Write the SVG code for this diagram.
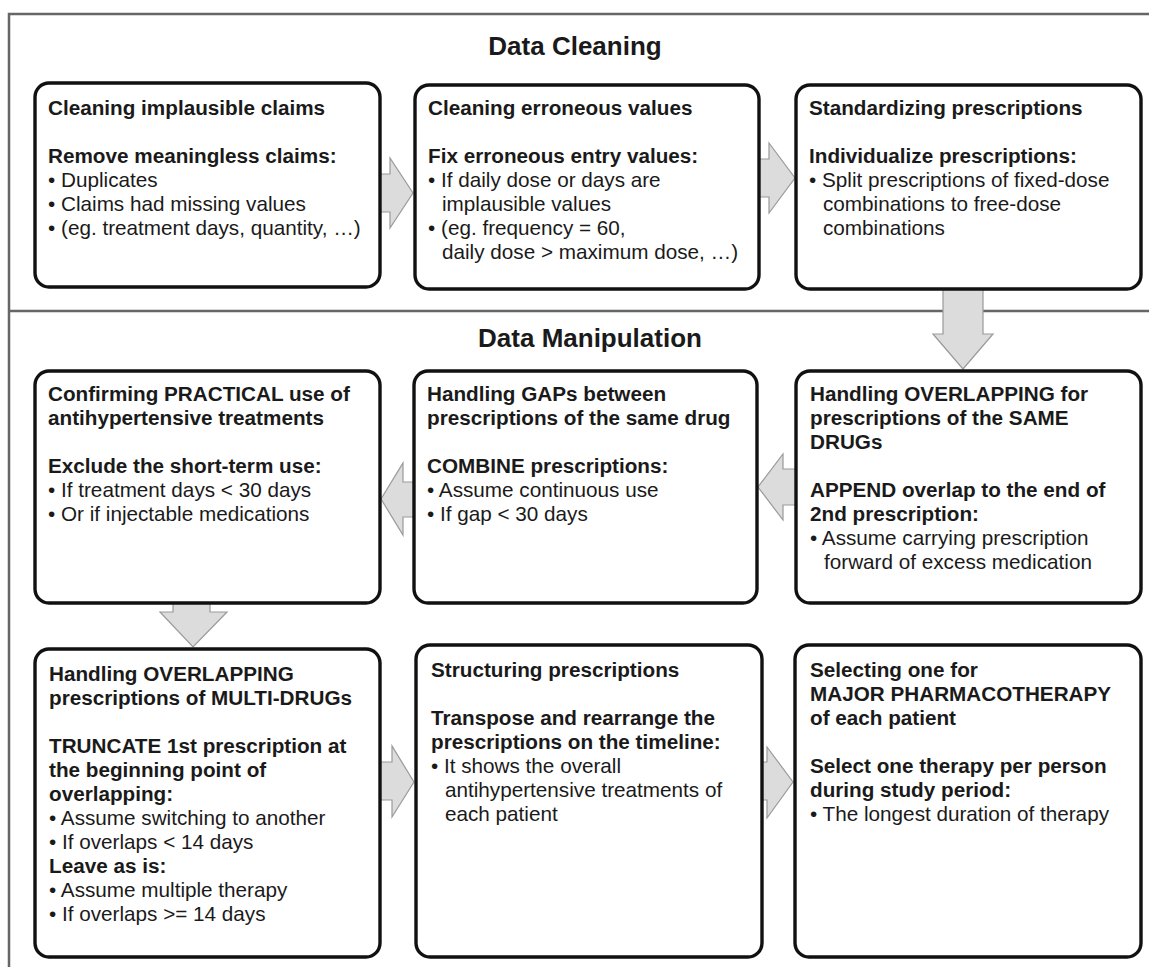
<svg xmlns="http://www.w3.org/2000/svg" width="1149" height="967" viewBox="0 0 1149 967">
<style>
.frame{stroke:#666;stroke-width:2.5;fill:none}
.box{fill:#fff;stroke:#111;stroke-width:3.4}
.arr{fill:#dcdcdc;stroke:#9a9a9a;stroke-width:1.2;stroke-linejoin:miter}
text{font-family:"Liberation Sans",Arial,sans-serif;font-size:20.7px;fill:#1a1a1a}
.b{font-weight:bold}
.h{font-weight:bold;font-size:26px;text-anchor:middle}
</style>
<rect width="1149" height="967" fill="#fff"/>
<g id="frame">
<path class="frame" d="M9,967 V14 H1149 M9,311 H1149"/>
<text class="h" x="575" y="55">Data Cleaning</text>
<text class="h" x="590" y="347">Data Manipulation</text>
</g>
<g id="connectors">
<polygon class="arr" points="378,174 390,174 390,158 413,193 390,228 390,212 378,212"/>
<polygon class="arr" points="757,159 769,159 769,143 795,178 769,213 769,197 757,197"/>
<polygon class="arr" points="943,287 983,287 983,334 993,334 963,369 933,334 943,334"/>
<polygon class="arr" points="798,469 783,469 783,454 758,487 783,520 783,505 798,505"/>
<polygon class="arr" points="416,482 403,482 403,463 381,499 403,535 403,517 416,517"/>
<polygon class="arr" points="173,601 210,601 210,612 227,612 193,647 160,612 173,612"/>
<polygon class="arr" points="378,762 392,762 392,746 414,782 392,817 392,800 378,800"/>
<polygon class="arr" points="760,762 767,762 767,747 793,782 767,818 767,800 760,800"/>
</g>
<g id="n1">
<rect class="box" x="35" y="83" width="345" height="204" rx="14"/>
<text class="b" x="48" y="115">Cleaning implausible claims</text>
<text class="b" x="48" y="163">Remove meaningless claims:</text>
<text x="48" y="187">• Duplicates</text>
<text x="48" y="211">• Claims had missing values</text>
<text x="48" y="235">• (eg. treatment days, quantity, …)</text>
</g>
<g id="n2">
<rect class="box" x="415" y="85" width="344" height="204" rx="14"/>
<text class="b" x="428" y="115">Cleaning erroneous values</text>
<text class="b" x="428" y="163">Fix erroneous entry values:</text>
<text x="428" y="187">• If daily dose or days are</text>
<text x="442" y="211">implausible values</text>
<text x="428" y="235">• (eg. frequency = 60,</text>
<text x="442" y="259">daily dose &gt; maximum dose, …)</text>
</g>
<g id="n3">
<rect class="box" x="796" y="85" width="345" height="204" rx="14"/>
<text class="b" x="809" y="115">Standardizing prescriptions</text>
<text class="b" x="809" y="163">Individualize prescriptions:</text>
<text x="809" y="187">• Split prescriptions of fixed-dose</text>
<text x="823" y="211">combinations to free-dose</text>
<text x="823" y="235">combinations</text>
</g>
<g id="n4">
<rect class="box" x="796" y="371" width="345" height="232" rx="14"/>
<text class="b" x="810" y="401">Handling OVERLAPPING for</text>
<text class="b" x="810" y="425">prescriptions of the SAME</text>
<text class="b" x="810" y="449">DRUGs</text>
<text class="b" x="810" y="497">APPEND overlap to the end of</text>
<text class="b" x="810" y="521">2nd prescription:</text>
<text x="810" y="545">• Assume carrying prescription</text>
<text x="824" y="569">forward of excess medication</text>
</g>
<g id="n5">
<rect class="box" x="414" y="371" width="343" height="232" rx="14"/>
<text class="b" x="427" y="401">Handling GAPs between</text>
<text class="b" x="427" y="425">prescriptions of the same drug</text>
<text class="b" x="427" y="473">COMBINE prescriptions:</text>
<text x="427" y="497">• Assume continuous use</text>
<text x="427" y="521">• If gap &lt; 30 days</text>
</g>
<g id="n6">
<rect class="box" x="35" y="371" width="345" height="232" rx="14"/>
<text class="b" x="48" y="401">Confirming PRACTICAL use of</text>
<text class="b" x="48" y="425">antihypertensive treatments</text>
<text class="b" x="48" y="473">Exclude the short-term use:</text>
<text x="48" y="497">• If treatment days &lt; 30 days</text>
<text x="48" y="521">• Or if injectable medications</text>
</g>
<g id="n7">
<rect class="box" x="35" y="649" width="345" height="308" rx="14"/>
<text class="b" x="49" y="681">Handling OVERLAPPING</text>
<text class="b" x="49" y="705">prescriptions of MULTI-DRUGs</text>
<text class="b" x="49" y="753">TRUNCATE 1st prescription at</text>
<text class="b" x="49" y="777">the beginning point of</text>
<text class="b" x="49" y="801">overlapping:</text>
<text x="49" y="825">• Assume switching to another</text>
<text x="49" y="849">• If overlaps &lt; 14 days</text>
<text class="b" x="49" y="873">Leave as is:</text>
<text x="49" y="897">• Assume multiple therapy</text>
<text x="49" y="921">• If overlaps &gt;= 14 days</text>
</g>
<g id="n8">
<rect class="box" x="416" y="645" width="346" height="312" rx="14"/>
<text class="b" x="431" y="677">Structuring prescriptions</text>
<text class="b" x="431" y="725">Transpose and rearrange the</text>
<text class="b" x="431" y="749">prescriptions on the timeline:</text>
<text x="431" y="773">• It shows the overall</text>
<text x="445" y="797">antihypertensive treatments of</text>
<text x="445" y="821">each patient</text>
</g>
<g id="n9">
<rect class="box" x="795" y="645" width="346" height="312" rx="14"/>
<text class="b" x="810" y="677">Selecting one for</text>
<text class="b" x="810" y="701">MAJOR PHARMACOTHERAPY</text>
<text class="b" x="810" y="725">of each patient</text>
<text class="b" x="810" y="773">Select one therapy per person</text>
<text class="b" x="810" y="797">during study period:</text>
<text x="810" y="821">• The longest duration of therapy</text>
</g>
</svg>
